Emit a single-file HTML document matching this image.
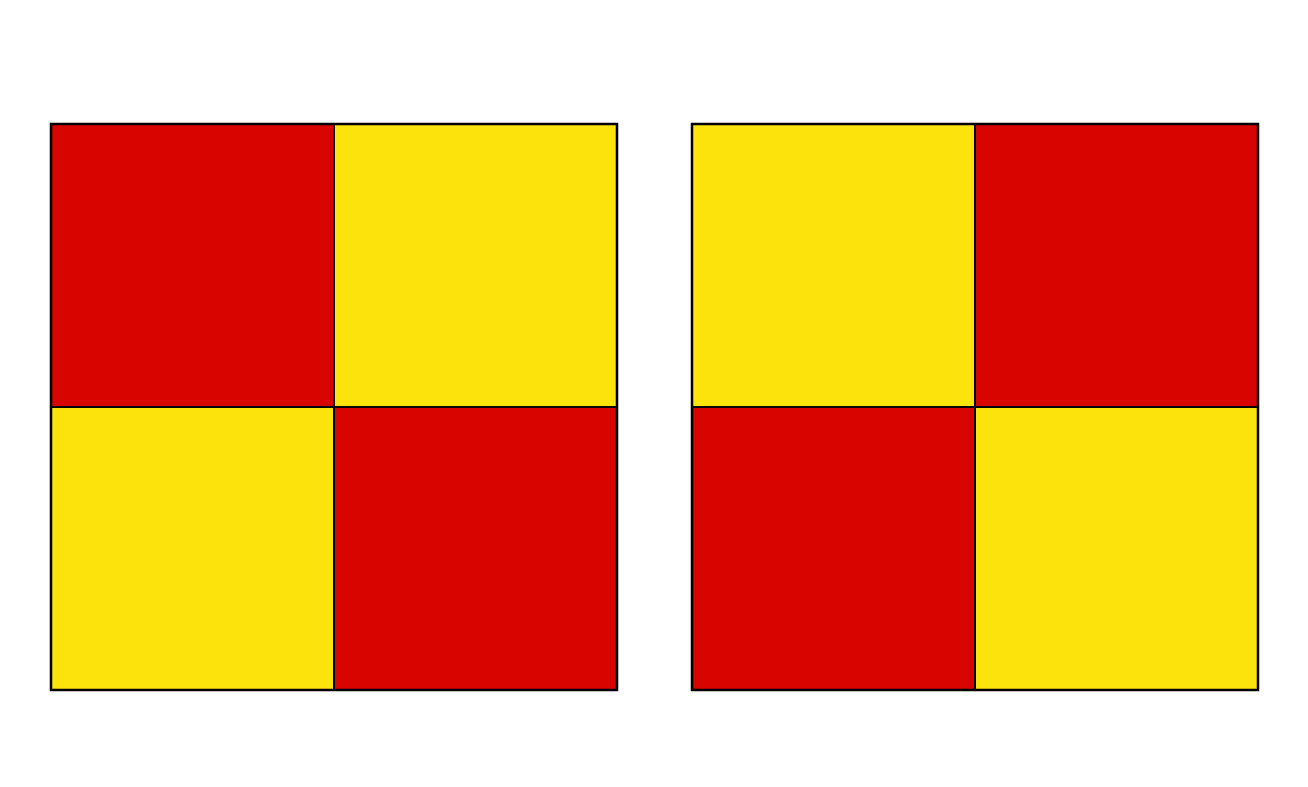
<!DOCTYPE html>
<html><head><meta charset="utf-8"><style>
body{margin:0;background:#fff;width:1308px;height:782px;overflow:hidden;font-family:"Liberation Sans",sans-serif}
</style></head><body>
<svg id="chart" width="1308" height="782" xmlns="http://www.w3.org/2000/svg"></svg>
<script>
const leftValues = [[1,0],[0,1]];
const rightValues = [[0,1],[1,0]];
const panels = [leftValues, rightValues];
const svg = document.getElementById('chart');
const NS = 'http://www.w3.org/2000/svg';
const panelX = i => 51 + i * 641;
const top0 = 124, size = 566;
const color = v => v ? '#d80400' : '#fce30c';
panels.forEach((vals, p) => {
  const g = document.createElementNS(NS, 'g');
  
  
  const n = vals.length, c = size / n;
  vals.forEach((row, r) => row.forEach((v, k) => {
    const rect = document.createElementNS(NS, 'rect');
    
    
    rect.setAttribute('x', panelX(p) + k * c);
    rect.setAttribute('y', top0 + r * c);
    rect.setAttribute('width', c);
    rect.setAttribute('height', c);
    rect.setAttribute('fill', color(v));
    rect.setAttribute('stroke', '#000');
    rect.setAttribute('stroke-width', '2');
    g.appendChild(rect);
  }));
  const frame = document.createElementNS(NS, 'rect');
  
  
  frame.setAttribute('x', panelX(p));
  frame.setAttribute('y', top0);
  frame.setAttribute('width', size);
  frame.setAttribute('height', size);
  frame.setAttribute('fill', 'none');
  frame.setAttribute('stroke', '#000');
  frame.setAttribute('stroke-width', '2.5');
  g.appendChild(frame);
  svg.appendChild(g);
});
</script>
</body></html>
